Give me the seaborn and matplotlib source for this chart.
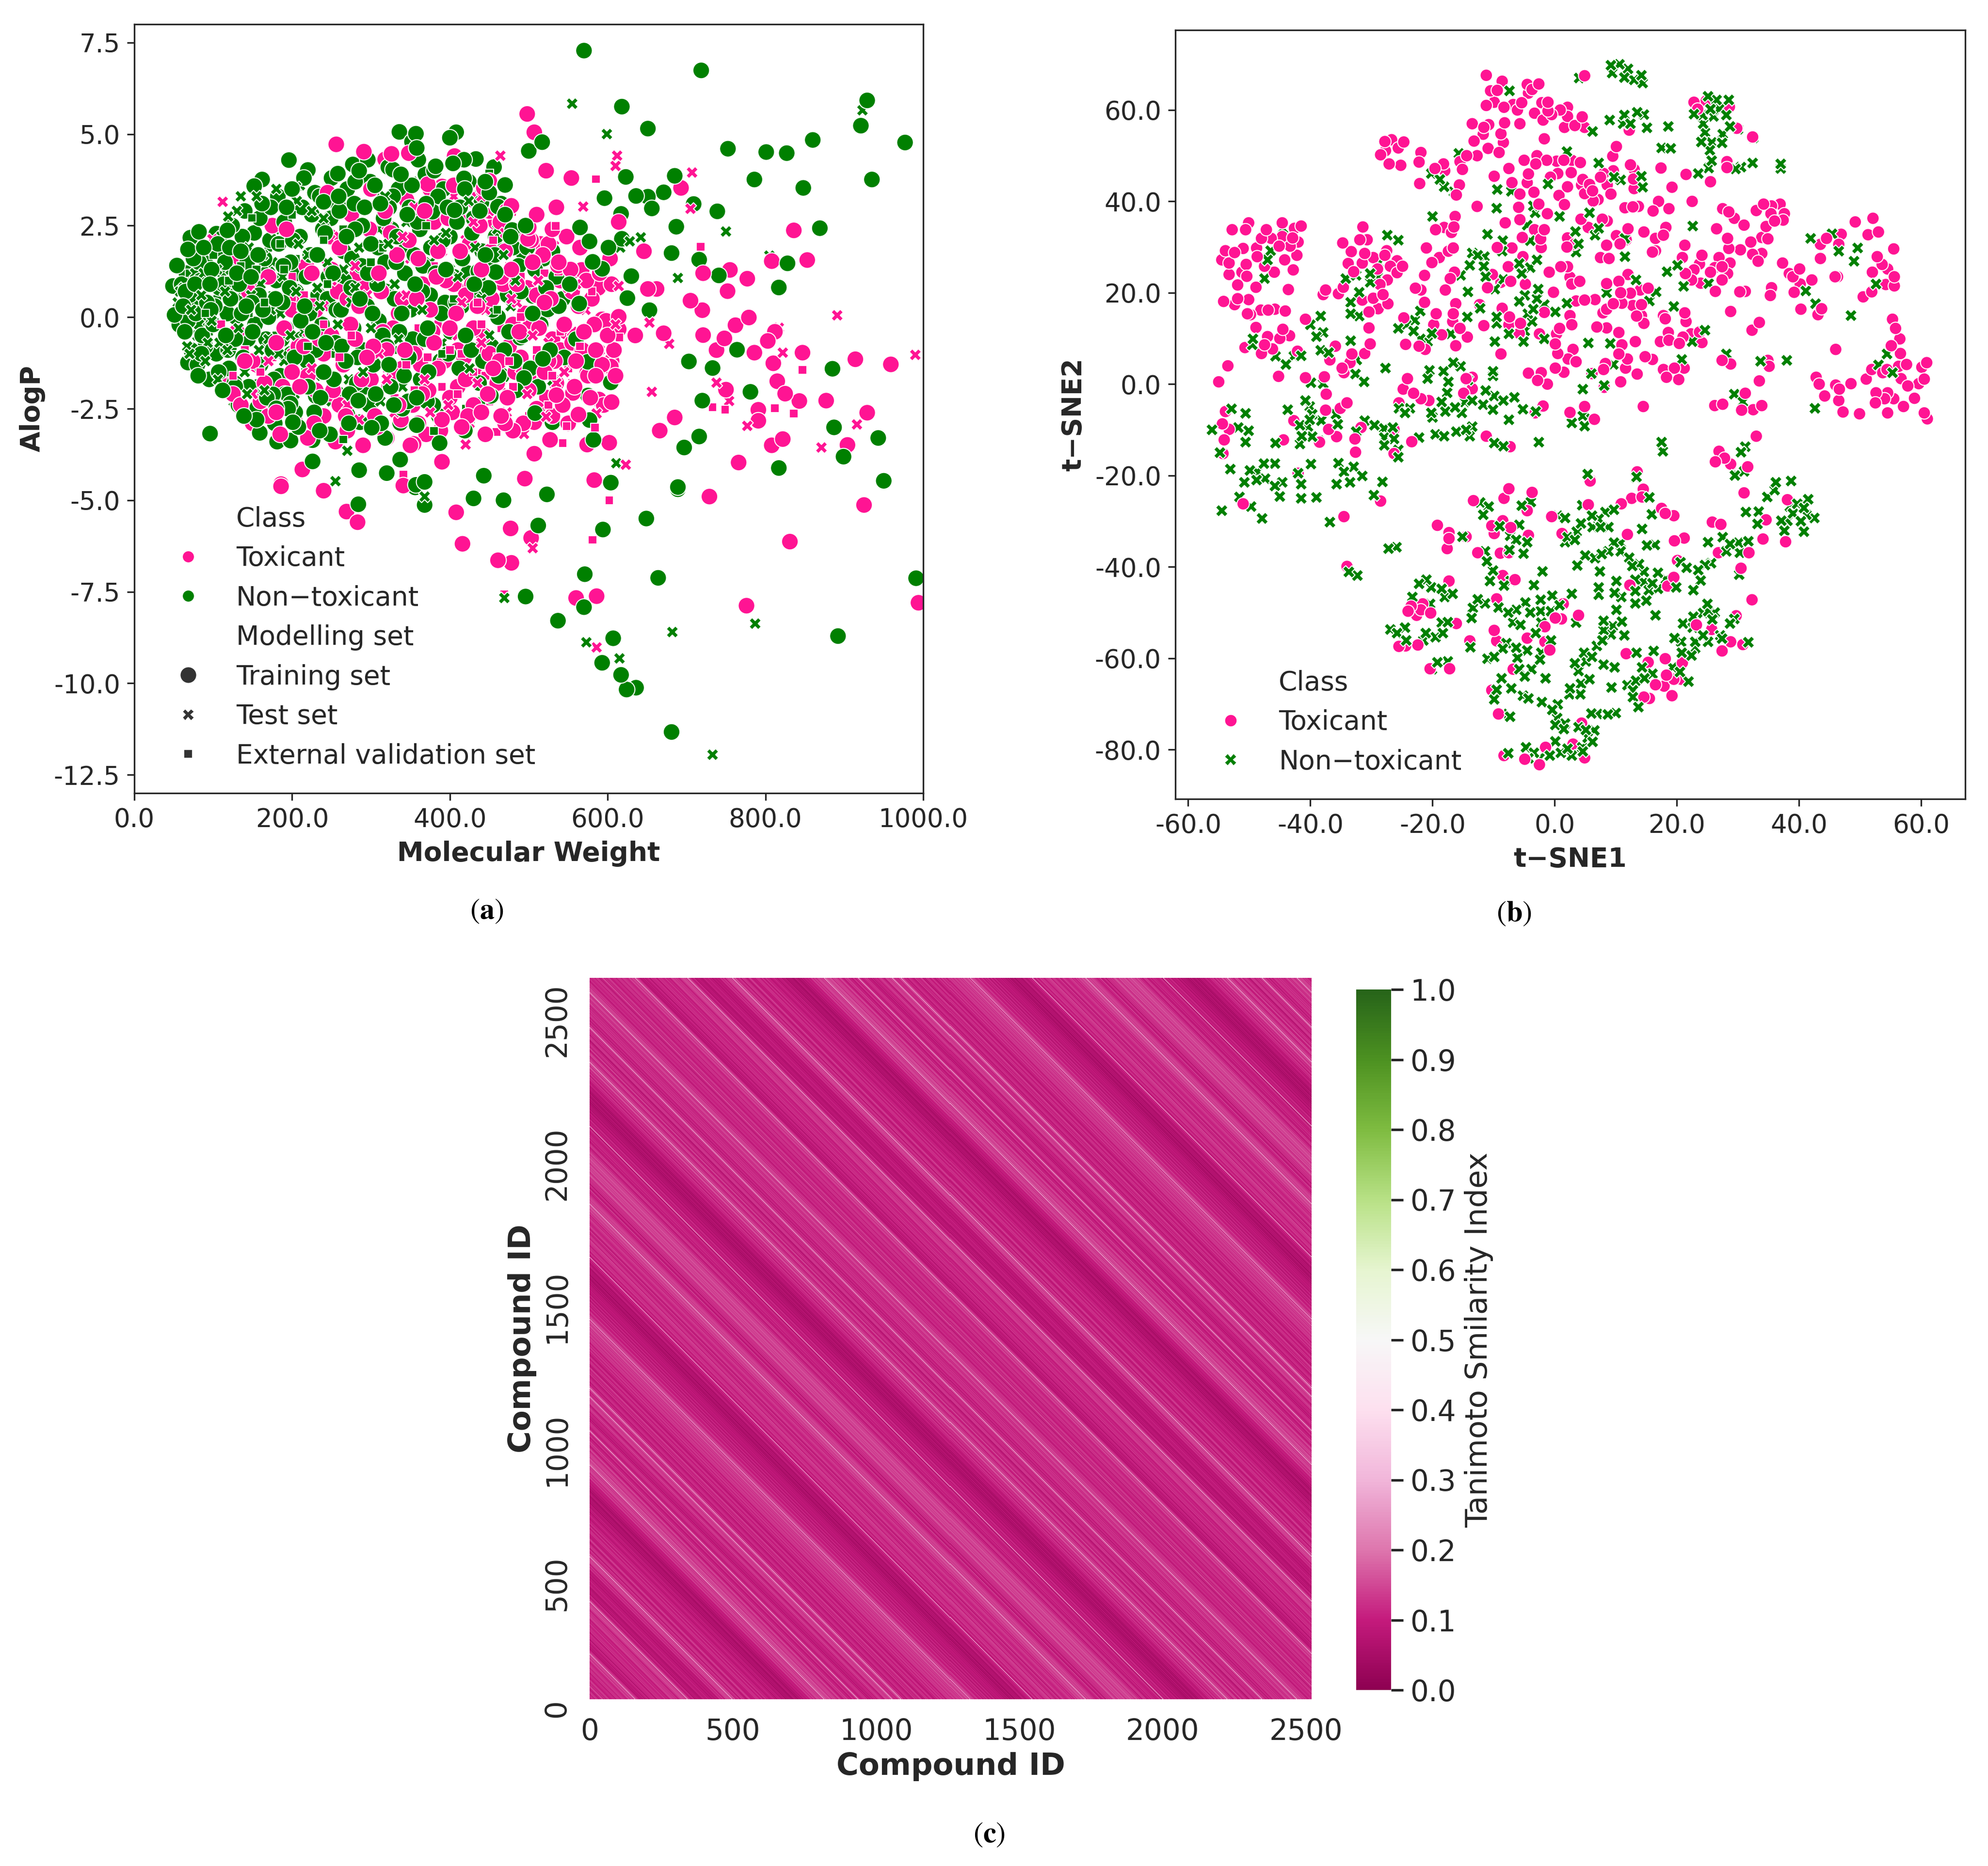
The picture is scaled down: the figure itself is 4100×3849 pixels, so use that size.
import numpy as np
import pandas as pd
import matplotlib
matplotlib.use("Agg")
import matplotlib.pyplot as plt
from matplotlib.lines import Line2D
from matplotlib.ticker import FormatStrFormatter
import seaborn as sns

# panel (a): molecular weight vs AlogP
tox_train = [
    (498,5.55),(507,5.05),(256,4.72),(291,4.52),(326,4.46),(318,4.31),(348,4.48),(406,4.4),(522,4.0),(554,3.8),
    (450,3.72),(443,3.53),(372,3.63),(390,3.57),(478,3.04),(464,2.6),(500,2.45),(614,2.6),(693,3.53),(499,2.14),
    (515,2.0),(646,1.8),(537,1.41),(567,1.29),(721,1.2),(755,1.29),(777,1.05),(808,1.53),(853,1.56),(836,2.37),
    (651,0.77),(662,0.77),(752,0.71),(705,0.45),(720,0.19),(779,-0.01),(762,-0.22),(721,-0.49),(748,-0.58),(738,-0.9),
    (803,-0.65),(812,-0.4),(786,-0.97),(847,-0.97),(914,-1.15),(959,-1.29),(810,-1.26),(815,-1.75),(825,-2.09),(843,-2.29),
    (877,-2.28),(750,-1.98),(791,-2.53),(791,-2.83),(929,-2.61),(822,-3.33),(808,-3.5),(904,-3.49),(766,-3.97),(685,-2.74),
    (666,-3.1),(614,0.01),(614,-0.33),(635,-0.5),(671,-0.44),(593,-0.06),(604,-1.35),(574,-1.53),(589,-2.25),(605,-2.32),
    (556,-2.07),(535,-2.13),(563,-2.66),(527,-3.35),(574,-3.48),(602,-3.43),(507,-3.73),(495,-4.41),(583,-4.45),(390,-3.95),
    (354,-3.46),(213,-4.16),(186,-4.56),(507,-2.87),(186,-4.62),(240,-4.74),(269,-5.31),(283,-5.6),(408,-5.33),(416,-6.19),
    (477,-5.77),(503,-6.03),(461,-6.64),(478,-6.71),(729,-4.9),(831,-6.13),(560,-7.67),(586,-7.62),(776,-7.88),(994,-7.8),
    (925,-5.13),(341,-4.6),
    (110,-1.5),(125,-2.1),(130,1.5),(140,-1.2),(150,-2.9),(155,0.9),(165,-1.8),(175,2.5),(180,-2.6),(185,-3.2),
    (195,0.5),(200,-1.5),(205,-2.9),(210,3),(215,-0.8),(220,-3.3),(225,1.2),(230,-2),(240,-2.7),(245,3.4),
    (250,-0.5),(255,-3.4),(260,1.9),(265,-1.3),(270,-3.1),(275,2.8),(280,-2.2),(285,0.3),(290,-3.5),(295,-1.1),
    (300,3.5),(305,-2.7),(310,1.2),(315,-0.4),(320,-3.3),(325,2.3),(330,-1.6),(335,-2.4),(340,0.5),(345,3.2),
    (350,-3.5),(355,-1),(360,1.6),(365,-2.1),(370,-3.2),(375,0.2),(380,2.6),(385,-1.4),(390,-2.8),(395,1),
    (400,-0.3),(405,3.6),(410,-1.9),(415,-3),(420,0.6),(425,2),(430,-2.4),(435,-0.9),(440,1.3),(445,-3.2),
    (450,2.9),(455,-1.4),(460,0),(465,-2.7),(470,1.8),(475,-0.8),(480,-3.1),(485,0.9),(490,2.3),(495,-1.9),
    (500,-0.3),(505,1.5),(510,-2.5),(515,-1.1),(520,0.4),(525,2),(530,-0.6),(535,-1.8),(540,1),(545,-0.2),
    (550,-2.9),(555,0.7),(560,-1.2),(565,1.9),(570,-0.4),(575,-1.6),(580,0.5),(585,-0.9),(590,1.2),(595,-2.4),
    (600,-0.5),(605,0.9),(610,-1.6),(400,-2.2),(410,-0.9),(420,-1.7),(430,-0.3),(440,-2.6),(450,-1),(460,-1.8),
    (470,-2.9),(480,-0.2),(490,-1.1),(500,-2),(510,0.6),(520,-1.5),(530,-2.7),(540,-0.9),(380,-0.7),(360,-2.9),
    (340,-1.4),(320,-0.9),(300,-1.7),(280,-0.6),(260,-2.4),(240,-1),(220,-1.6),(200,0.2),(180,-0.7),(160,-2.3),
    (120,-1.8),(135,-2.4),(145,0.7),(155,-1.3),(170,-2.7),(188,-1.9),(193,2.4),(208,-0.8),(218,1.4),(228,-2.9),
    (235,-0.6),(248,2.2),(252,-2),(258,0.7),(268,-2.7),(274,-0.2),(283,1.2),(288,-1.7),(298,2.4),(303,-0.8),
    (308,-3),(313,0.7),(318,2.9),(323,-1.9),(328,-0.3),(333,1.7),(338,-2.8),(343,-0.9),(348,2.1),(353,-2.4),
    (358,0.5),(363,-1.3),(368,2.9),(373,-2),(378,-0.4),(383,1.1),(388,-3.1),(393,-1.2),(398,2.7),(403,-2.6),
    (408,0.1),(413,1.8),(418,-1.1),(423,-2.7),(428,0.9),(433,-1.6),(438,2.5),(443,-0.5),(448,-2.1),(453,0.5),
    (458,2.6),(463,-1.2),(468,0.9),(473,-2.2),(478,1.3),(483,-1.5),(488,-0.4),(493,-2.9),(498,0.8),(503,2.1),
    (508,-1.6),(513,-0.3),(518,1.7),(523,-2.2),(528,0.5),(533,-1.2),(538,1.5),(543,-2.4),(548,-0.4),(553,1.3),
    (558,-1.9),(563,0.3),(568,-0.9),(573,1),(578,-2.2),(583,-0.2),(588,0.8),(593,-1.3),(598,-0.1),(603,1.6),
    (608,-0.9),(375,3.5),(385,1.8),(410,2.7),(430,3.2),(452,1.8),(472,2.9),(510,2.8),(530,2.4),(548,2.2),
    (535,3),(270,0.5),(290,0.9),(250,1.3),(230,0.2),(210,-1.9),(190,-0.3),(170,1.1),(150,-1.2),(130,-0.4),
    (335,0.1),(365,0.9),(405,0.9),(435,0.3),(465,1.1),(495,0.1),(525,-1.2),(555,-0.7),(585,-1.6),(605,-1.2),
]
non_train = [
    (570,7.28),(718.6,6.74),(929,5.92),(618,5.75),(651,5.15),(921,5.23),(977,4.77),(860,4.84),(752.5,4.6),(801,4.51),
    (827,4.48),(786,3.76),(935,3.76),(848,3.53),(685,3.86),(623,3.83),(671,3.41),(636,3.31),(651,3.29),(656,2.97),
    (596,3.25),(739,2.89),(709,3.09),(617,2.82),(687,2.47),(869,2.43),(565,2.45),(577,2.07),(601,1.9),(618,2.14),
    (681,1.75),(716,1.57),(828,1.47),(741,1.14),(630,1.12),(581,1.51),(593,1.32),(817,0.81),(625,0.52),(653,0.19),
    (564,0.37),(523,0.24),(505,0.58),(764,-0.89),(703,-1.21),(733,-1.39),(885,-1.41),(781,-2.04),(720,-2.28),(604,-1.78),
    (575,-2.14),(575,-1.22),(887,-3.01),(943,-3.3),(716,-3.26),(697,-3.56),(582,-3.35),(577,-2.81),(530,-2.87),(508,-2.62),
    (899,-3.81),(817,-4.12),(604,-4.52),(950,-4.47),(689,-4.64),(443,-4.33),(368,-4.5),(357,-4.58),(320,-4.26),(285,-4.18),
    (226,-3.94),(337,-3.89),(387,-3.44),(318,-3.3),(301,-3.02),(286,-2.87),(226,-3.36),(235,-3.1),(198,-3.37),(181,-3.4),
    (159,-3.16),(96,-3.18),(201,-2.87),(284,-5.11),(368,-5.13),(430,-4.95),(468,-5.0),(523,-4.84),(512,-5.69),(594,-5.8),
    (649,-5.5),(571,-7.02),(664,-7.12),(991,-7.13),(496,-7.63),(570,-7.92),(537,-8.29),(607,-8.77),(892,-8.71),(593,-9.44),
    (617,-9.77),(624,-10.17),(636,-10.12),(681,-11.33),(689,-4.7),(356,-4.65),
    (82,2.33),(71,2.17),(68,1.85),(54,1.41),(49,0.85),(51,0.06),(57,-0.21),(68,-1.24),(81,-1.6),(104,2.28),
    (118,2.37),(152,3.58),(162,3.76),(196,4.29),(220,4.02),(258,3.92),(280,3.7),(277,4.17),(296,4.3),(328,4.03),
    (336,5.06),(357,5.01),(352,4.79),(358,4.62),(400,4.9),(408,5.05),(418,4.3),(433,4.32),(456,4.1),(418,3.79),
    (470,3.61),(382,4.12),(303,3.49),(500,4.54),(517,4.78),(440,3.13),(406,2.92),(378,2.88),(315,3.09),(240,3.15),
    (259,3.02),(228,3.41),(323,2.99),(461,3.02),(479,2.38),(468,1.82),(492,1.8),(458,1.23),(436,1.25),(445,1.7),
    (128,-1.9),(157,-1.9),(176,-2.11),(194,-2.11),(230,-2.15),(198,-2.36),(156,-2.47),(180,-2.49),(270,-2.66),(337,-2.89),
    (358,-2.95),(419,-3.1),(422,-2.81),(347,-2.3),(371,-2.3),(284,-2.28),(452,-2.15),(466,-1.6),(494,-1.66),(489,-0.56),
    (518,-1.14),(524,0.21),
    (60,0.9),(62,0.3),(64,-0.4),(66,1.2),(70,0.6),(72,-0.9),(75,1.6),(78,0.1),(80,-1.3),(84,1),
    (86,-0.5),(88,1.9),(92,0.4),(95,-1.7),(98,1.3),(100,-0.2),(104,-1),(106,2),(108,0.8),(112,-2),
    (115,1.5),(118,0.1),(120,-1.4),(124,2.5),(126,0.7),(128,-0.6),(132,-2.4),(135,1.8),(138,-1.1),(140,2.9),
    (142,0.3),(145,-1.9),(148,1.1),(150,-0.4),(152,2.3),(155,-2.8),(158,0.6),(160,-1.3),(162,3.1),(165,1.6),
    (168,-2.2),(170,0),(172,2.1),(175,-0.9),(178,-2.9),(180,1),(182,3.3),(185,-1.6),(188,0.4),(190,2.6),
    (192,-0.3),(195,-2.5),(198,1.5),(200,3.5),(203,-1.1),(205,0.7),(208,-3),(210,2.2),(212,-0.6),(215,3.8),
    (218,1.1),(220,-1.9),(222,0.1),(225,2.8),(228,-2.6),(230,-0.9),(232,1.7),(235,3.3),(238,-0.2),(240,-1.5),
    (242,2.3),(245,0.5),(248,-3.2),(250,3.8),(252,1.2),(255,-0.7),(258,-2.1),(260,2.9),(262,0.2),(265,1.8),
    (268,-1.2),(270,3.5),(272,-2.9),(275,0.8),(278,-0.3),(280,2.4),(282,-1.8),(285,4),(288,1.4),(290,-0.9),
    (292,3),(295,0.3),(298,-2.4),(300,2),(303,-1.3),(305,3.6),(308,0.9),(310,-0.1),(313,-2.9),(316,2.7),
    (318,1.5),(320,-0.8),(322,4.1),(325,-1.9),(328,3.3),(330,0.5),(333,2.2),(336,-0.4),(338,3.9),(340,-2.5),
    (343,1.2),(346,2.8),(348,-1.1),(350,0.2),(352,3.6),(355,1.7),(358,-2.2),(360,4.3),(362,2.4),(365,0.7),
    (368,-0.6),(370,3.1),(373,-1.5),(376,1.9),(380,4),(383,2.7),(386,-2.7),(389,0.1),(392,3.5),(395,1.3),
    (398,-1),(400,2.2),(404,4.2),(408,0.4),(410,-1.9),(413,3),(416,1.6),(420,-0.5),(424,3.7),(428,2.3),
    (431,0.9),(435,-2.4),(438,2.9),(442,-1.2),(446,1.4),(450,3.4),(454,0.2),(458,2.2),(462,-1.6),(466,1),
    (470,2.8),(475,-0.4),(480,1.9),(484,-2),(490,0.7),(496,2.5),(502,-1.4),(508,1.3),(515,-0.2),(522,0.8),
    (530,1.8),(538,0.3),(545,-1.1),(552,0.9),(560,-0.6),(58,0.1),(65,0.7),(68,-0.1),(74,0.4),(82,1.5),
    (90,-0.8),(96,0.9),(102,0.3),(110,1.3),(116,-0.5),(122,0.5),(130,1.2),(136,0.1),(144,-0.6),
    (77,0.9),(85,-1),(91,-0.1),(97,0.2),(103,1.8),(107,-1.5),(113,0.9),(119,-0.9),(121,1.9),(127,-1.8),
    (129,0),(133,0.9),(137,2.2),(139,-2.7),(143,1.5),(147,-1.2),(149,0.4),(153,-0.2),(157,1.7),(159,2.7),
    (161,-2.1),(163,0.2),(167,-0.6),(169,1.2),(173,3),(177,-1.7),(179,0.5),(183,2),(187,-0.6),(189,1.4),
    (191,-2.1),(193,3),(197,0.8),(199,-1),(201,2.1),(204,-2.6),(207,1.2),(211,-0.1),(213,3),(216,0.3),
    (219,-1.2),(223,1.7),(226,-0.4),(229,3.4),(233,0.6),(236,-2.2),(239,2.4),(243,-0.7),(246,1.1),(249,2.7),
    (253,-1.7),(256,0.2),(259,3.3),(263,-0.8),(266,1),(269,2.2),(273,-2.1),(276,1.6),(279,3.1),(283,-1.1),
    (286,0.5),(289,2.5),(293,-1.9),(296,1.2),(299,3.7),(302,0.1),(306,-2.1),(309,1.9),(312,3.1),(315,-0.5),
    (319,0.7),(323,-1.3),(326,2.4),(329,-2.4),(332,1.5),(335,3.5),(339,0.1),(342,-1.6),(345,1.9),(349,3),
    (353,-0.6),(356,0.9),(359,2.6),(363,-1.7),(366,1.4),(369,3.9),(372,-0.3),(375,0.6),(379,-2.4),(382,1.2),
    (385,3.3),(388,-1.2),(391,2.1),(394,0.4),(397,3),(401,-0.4),(405,1.1),(409,2.6),(412,-1.4),(415,0.3),
    (419,3.5),(423,1.2),(427,-0.9),(430,2.7),(434,0.5),(437,-1.8),(441,1.8),(445,3.7),(449,0.8),(453,-0.8),
    (457,1.7),(461,0),(465,3.1),(469,-0.9),(473,0.6),(477,2.2),(482,-1.2),(487,1.4),(492,-0.5),(498,1.9),
    (505,0.1),(512,-1.9),(519,1.6),(527,-0.9),(535,1.1),(543,0.5),
]
tox_test = [
    (464,4.41),(612,4.41),(610,4.13),(569,3.02),(534,3.04),(705,2.96),(707,3.95),(532,1.94),(614,0.85),(817,-0.29),
    (891,0.05),(653,-0.15),(678,-0.73),(822,-0.97),(990,-1.03),(656,-2.04),(738,-1.79),(754,-2.29),(777,-2.97),(916,-2.93),
    (871,-3.56),(623,-4.03),(586,-2.63),(522,-2.72),(420,-3.48),(494,-3.19),(505,-6.31),(586,-9.02),(926,-5.18),(99,2.13),
    (112,3.15),(150,-2.1),(200,-1),(240,0.3),(270,-2.4),(300,1.3),(320,-1.7),(345,0.6),(360,-0.8),(375,-2.6),
    (390,1.8),(400,-1.2),(415,0.4),(425,-2.9),(440,-0.7),(455,1.2),(465,-1.9),(478,0.5),(490,-1.4),(505,-0.5),
    (515,-2.6),(522,0.1),(545,-1.5),(550,0.8),(565,-2.1),(580,-1.2),(600,-1.4),(610,-0.2),(235,1.6),(260,2.2),
    (340,2.2),(380,2.9),(420,2.1),(430,2.6),(450,2.9),(470,2.3),(505,1.6),(530,1.1),(560,0.9),
    (130,-1.9),(170,-1.2),(190,-2.5),(210,0.5),(225,-1.4),(250,-1.6),(265,0.2),(285,-2.8),(295,0.6),(310,-1),
    (330,-2.6),(350,1.6),(368,-1.7),(385,0.1),(398,-2.4),(410,-0.5),(423,1.2),(435,-1.8),(445,0.2),(458,-0.9),
    (472,-2.6),(485,0.4),(498,-2.1),(512,1),(525,-0.7),(535,-1.8),(555,-0.4),(572,0.2),(590,-0.9),(525,2),
    (497,2.5),(440,3.3),(405,3.3),(355,3),(320,2.5),(280,1.4),(250,1),(220,-0.4),
]
non_test = [
    (555,5.83),(599,5),(431,3.36),(424,3.17),(427,2.77),(205,3.55),(206,3.17),(135,3.3),(119,2.75),(923,5.65),
    (750,2.34),(805,1.68),(689,1.07),(642,2.18),(628,2.07),(616,1.9),(530,-1.73),(611,-3.99),(270,-3.65),(255,-4.48),
    (469,-7.67),(573,-8.88),(682,-8.6),(787,-8.37),(615,-9.32),(733,-11.95),(368,-4.9),
    (55,0.4),(60,-0.2),(63,0.8),(67,-0.8),(72,0.2),(77,1.2),(80,-0.5),(85,0.6),(90,-1.2),(94,1.6),
    (98,-0.1),(102,0.9),(106,-1.7),(110,2.2),(113,0.2),(118,-0.9),(122,1.3),(126,-2.3),(130,2.9),(135,0.5),
    (140,-1.5),(145,1.9),(150,-0.4),(155,3.3),(160,0.9),(165,-2),(170,-0.6),(175,1.5),(180,3.5),(185,0.1),
    (190,-1.2),(195,2.4),(200,-2.9),(205,0.7),(210,3.6),(215,-0.4),(220,1.7),(230,-1.6),(235,0.3),(240,2.7),
    (250,-2.3),(255,1.1),(260,-0.8),(270,3),(275,0.4),(285,1.9),(290,-1.5),(300,-0.3),(310,2.4),(318,3.3),
    (330,0.9),(340,-1.9),(352,2.9),(360,3.7),(365,0.2),(375,1.5),(390,-0.7),(395,2.3),(410,1.1),(425,-1.4),
    (440,0.5),(460,2.4),(468,1.7),(483,1),(477,0.3),
    (58,0.7),(65,0.2),(70,-1),(75,0.9),(82,-0.2),(88,1.2),(93,-0.7),(97,0.5),(105,1.3),(108,-0.7),
    (115,0.7),(120,-1.5),(125,1.9),(132,-0.3),(138,1.1),(143,-2.1),(148,0.6),(153,2.3),(158,-0.9),(163,1.7),
    (168,-2.7),(173,0.2),(178,2.4),(183,-1),(188,1.1),(193,3),(198,-0.5),(203,-2.1),(208,2),(213,0.1),
    (218,-1.5),(225,2.9),(232,0.8),(238,-2.6),(245,1.5),(252,3.2),(258,-0.2),(265,1.3),(272,-1.7),(280,0.8),
    (287,2.9),(295,-0.9),(305,1.1),(312,-2.3),(322,2),(335,-0.6),(345,2.6),(358,0.6),(370,-1.6),(380,2.1),
    (400,1.3),(415,3),(432,1.9),(450,-0.5),(462,1.1),
]
tox_ext = [
    (585,3.77),(479,2.88),(534,2.49),(538,1.25),(558,1.18),(718,1.92),(847,-1.44),(733,-2.46),(749,-2.53),(812,-2.49),
    (836,-2.63),(615,-0.55),(555,-1.8),(543,-3.44),(459,-3.14),(584,-3.02),(548,-2.98),(341,-4.3),(602,-5.0),(581,-6.08),
    (469,-7.57),(110,-0.2),(140,-0.9),(160,-1.5),(180,-2.3),(200,1.1),(215,0.6),(240,-0.2),(260,-1.1),(290,-1.7),
    (310,-0.6),(330,-2.2),(345,-1.3),(360,-0.3),(380,1.4),(390,-1.9),(400,-0.9),(410,-2.1),(420,0.8),(430,-1.5),
    (440,-0.2),(450,-2.3),(460,-1.1),(470,0.6),(480,-1.9),(490,0),(500,-2.7),(510,-0.9),(520,1.2),(530,-1.6),
    (540,-0.4),(475,1.4),(455,2.1),(490,1.1),(400,2.2),(540,1.5),(580,0.7),
    (125,-1.6),(150,-0.3),(175,-1.1),(225,0.4),(250,-2.2),(275,-0.5),(300,0.1),(320,-1.4),(355,-2),(372,-1.1),
    (385,-0.2),(415,-1),(425,-2.8),(435,0.4),(445,-1.6),(465,-0.3),(475,-1.2),(505,-1.7),(515,0.3),(525,-2.4),
    (550,-1.4),(565,-0.8),
]
non_ext = [
    (349,3.7),(450,3.93),(149,2.71),(84,1.17),(265,-3.34),(380,-3.11),(70,1.2),(90,0.1),(100,1.7),(105,0.5),
    (115,2.2),(125,-0.8),(135,1.4),(145,0.1),(150,2.3),(155,1.3),(160,-1.4),(170,1.9),(175,0.6),(180,-0.5),
    (190,1.3),(200,2.8),(210,0.2),(220,-0.8),(230,1.6),(245,0.9),(265,2.4),(280,-1.9),(300,1.5),(330,-0.9),
    (350,-2.9),(390,-1),(420,-2.5),(460,0.2),
    (80,0.6),(95,-0.4),(120,1),(140,1.9),(165,0.4),(185,2),(205,1.6),(240,2.1),(255,-1),(290,0.4),
    (315,1.9),(345,0.1),(370,2.5),(405,0.5),(440,1.1),
]

# panel (b): t-SNE map
tsne_tox = [
    (-50.1,35.3),(-52.8,33.8),(-50.6,33.8),(-47.2,33.8),(-44.6,35.3),(-42.6,34.1),(-41.5,34.6),(-53.9,29.2),(-52.4,28.8),(-51,29.7),
    (-48.8,29.8),(-48,31.9),(-46.4,31.9),(-44.6,32.3),(-42.9,32),(-42,31.1),(-45.1,30.2),(-43.3,30.2),(-54.5,27.2),(-53.3,26.5),
    (-50.5,26.2),(-48.7,27.9),(-47.5,25.8),(-45.9,24.5),(-44.2,27.2),(-42.2,28.2),(-42.8,25),(-53.3,24),(-51.2,24.5),(-50.4,23.6),
    (-51.9,21.7),(-48.9,21.2),(-43.6,20.7),(-51.9,18.7),(-50.1,18.5),(-54.2,18.1),(-52.4,17.4),(-50.3,15.4),(-49.8,15.2),(-48.1,16.2),
    (-46.9,16.2),(-45.8,16.4),(-44.1,16),(-31.4,34.4),(-34.7,30.9),(-31.9,31.6),(-30.7,31.6),(-33.3,29),(-31.1,28.6),(-29.7,27.7),
    (-27.8,28.2),(-27.5,29.2),(-25.8,27),(-33.8,26.4),(-31.5,26.5),(-32.9,24.6),(-29,25.2),(-26.9,25.8),(-24.9,25.8),(-25.8,24.4),
    (-27.4,22.8),(-28.6,21.8),(-34.6,21.2),(-37.5,20.6),(-37.9,19.6),(-35.4,19.8),(-28.1,19.6),(-29.7,18.8),(-31.5,18.4),(-27.3,17.6),
    (-28.9,16.5),(-30.4,15.8),(-40.8,14.2),(-30.4,12.3),(-30.2,8.8),(-35.9,8.3),(-33.2,6.6),(-31.1,6.7),(-36.8,5.3),(-34.8,3.5),
    (-33.5,4.7),(-34.5,2.5),(-48.9,12.4),(-47,10.4),(-44.5,12),(-45,10),(-43.4,10.6),(-47.5,8.6),(-46.2,7.7),(-50.7,8),
    (-48,6.7),(-42.1,7.2),(-53.5,4),(-55,0.5),(-45.2,1.7),(-40.8,1.4),(-37.7,1.6),(-37.4,-2.2),(-34,-4.1),(-35.1,-5.3),
    (-37.5,-5.7),(-42.7,-8),(-53.9,-6),(-54.4,-8.7),(-53.3,-9.9),(-54.1,-12.2),(-54.3,-15.2),(-44.4,-12.2),(-37,-9.9),(-35.7,-11.5),
    (-32.7,-12),(-32.6,-14.9),(-26.3,-9.9),(-23.4,-12.6),(-26.3,-15.2),(-42,-19.5),
    (-11.2,67.6),(-8.6,66.3),(-9.4,64.3),(-10.5,64.2),(-4.5,65.6),(-2.6,65.7),(-3.7,64.5),(-4.3,63.7),(4.9,67.5),(-9.9,61.7),
    (-11.2,61),(-8.3,60.6),(-6.8,61.2),(-5.4,61.6),(-2.1,61.6),(-1.1,61.7),(-6.1,60),(-3.3,59.3),(-1.1,59.8),(0.9,60),
    (2.1,60.6),(-0.5,59),(2.1,58.6),(4.5,58.5),(-1.9,57.8),(-13.5,57),(-8.2,57.2),(-10.8,56.8),(-11.6,56.2),(-5.7,57),
    (1.6,56.2),(3.3,56.6),(4.9,56.2),(-11.7,54.7),(-8.8,54.8),(-1.7,53.7),(-13.2,53.2),(-8.4,52.9),(-10.9,51.6),(-9.1,50.7),
    (10.1,52),(9.5,49.9),(-27.8,53.1),(-26.7,53.5),(-24.7,53),(-25.6,51.7),(-27.7,51.1),(-28.5,50.2),(-21.9,50.7),(-14.4,50),
    (-12.7,50),(-15.5,48.7),(-22.2,48.6),(-27.1,48.2),(-25.2,47.9),(-18.2,48.2),(-15.1,47),(-19.6,47.2),(-18,46.7),(-15.6,43.6),
    (-22.1,43.9),(-16.1,41.4),(28.6,60.7),(22.8,61.7),(24.8,62),(23.4,60.2),(29.8,56),(12.2,55.6),(32.4,54.1),(28.2,48.7),
    (28.2,47.4),(25.5,44.3),(21.5,45.9),(17.4,47.3),(12.4,48),(13,47),
    (-5,49),(-2.9,50),(-3.1,48.2),(-1.3,49),(0.3,48.8),(1.5,49),(2.8,49),(4.2,48.5),(-7.5,47.2),(-4.3,46),
    (-9.9,45.5),(-0.7,45.3),(0.5,46.1),(2.7,46.3),(4.6,44.8),(7.5,45.3),(8,46.1),(9.6,46.7),(12.9,44.9),(-7,44.1),
    (-4.5,44.1),(2.1,43.2),(4.4,43.6),(5.7,43.7),(8.6,43.6),(13,42.8),(-5.7,41.6),(-3.4,42),(6.2,42.3),(4.9,41.7),
    (0.7,41.3),(9.2,41.6),(6.3,40.1),(7.1,40.4),(-12.7,38.9),(-5.9,38.7),(-2.6,39.4),(1.6,39.3),(11.5,38.6),(12.8,38.8),
    (13.7,38.9),(-16.3,36.7),(-1.2,37.3),(-5.7,36),(4.3,36.1),(7.8,36.1),(8.6,35.7),(-8.1,35.3),(5.5,34.3),(12,34),
    (14.6,33.3),(-3.3,33.8),(-1.7,33.8),(-19.5,33.8),(-18.1,34.3),(-16.5,34.4),(-16.9,33.2),(-5.3,32.1),(-2.3,31.8),(2.1,32),
    (10.1,32.5),(11.7,31.6),(10.7,30.7),(8.5,30.4),(-2.2,29.9),(2,30),(3.2,30.6),(-21,29.8),(-16.6,29.8),(-17.4,29.1),
    (-9.4,29.9),(-7,29.8),(7.5,27.7),(8.9,27.5),(-5.2,27.9),(-18.9,27.7),(-20.1,26.6),(-16.4,24.5),(-7.6,25.7),(-10.2,24),
    (-21.3,23.8),(-17.1,23.1),(-0.9,24.5),(1,25.7),(2.1,25.7),(2.5,23.4),(4.1,22.5),(2.8,21.9),(-8.8,22.3),(-7.2,22.5),
    (-4.8,21.9),(-11,21.1),(-22.8,21),(-21.9,20.6),(-17.9,20.6),(-0.2,20.1),(8.5,22),(10.5,22.5),(12,24),(10.8,20),
    (12.4,19.9),(14,20.6),(15.3,21),(3.5,18.2),(4.9,18.4),(6.6,18.5),(8.5,16.4),(9.6,17.6),(11,17.7),(12.8,17.2),
    (14.2,17.4),(14.2,15),(13.4,14.9),(14.6,13.3),(-16.2,17.6),(-21.3,17.9),(-19.4,15.4),(-16.6,15.4),(-16.7,13.7),(-19.8,13),
    (-15.5,12.2),(-18.5,10.8),(-14.3,10.3),(-11.6,12.8),(-16.2,8.4),(-22.2,8.3),(-24.4,8.7),(-21.2,7.6),(-24.7,14.5),(-12.3,17.4),
    (-8.6,16.6),(-7.4,14.7),(-7.5,13),(-5.6,13.3),(-5.8,11.1),(-8.8,6.6),(-1.7,15.7),(2.5,15),(2.8,13),(0.8,12.2),
    (0.3,11),(0.1,8.8),(-2.5,11),(3,7.6),(0.5,6.7),(2.2,5.5),(3.5,4.9),(0.1,3.5),(1.5,2.6),(-4.3,2.4),
    (-2.2,2.5),(-2.8,0.8),(-1.2,0),(6.1,2.3),(8,3.2),(8.3,4.5),(10.5,11.3),(11,8.6),(13.2,9.3),(6.9,12.5),
    (8.5,12.3),(7.9,15.6),(10.5,6.6),(11.9,5.5),(11.6,3.5),(13.5,2.2),(10.8,0.5),(14.8,6),(16,5.4),(17.8,3.2),
    (19.6,3.5),(20.3,1),(18.3,1.5),(21.2,3.5),(17.8,15),(21.3,15.6),(18.1,14.3),(21.5,13.7),(18.6,11.3),(17.3,9.3),
    (18.7,9.6),(21,10.3),(22.3,11),(23.7,11.4),(24.1,9.1),(20.4,8.9),(8.1,-0.7),
    (19.2,43.1),(22.5,40),(16.1,37.9),(17,40),(18.7,38.4),(18.2,34.3),(17.8,32.6),(16.5,31.9),(16.5,29.2),(21.3,30.4),
    (16,28.9),(20.9,27.7),(24.1,28.2),(26.9,27.7),(28.3,31.9),(26.5,34),(27.5,38.4),(28.5,37.7),(29.4,36.3),(31,34.8),
    (28.5,29.7),(30.4,29.4),(32.1,31.1),(32.4,28.4),(33.9,28.6),(33.3,26.9),(33.9,32.1),(34.9,31.8),(34.6,34.5),(33,38),
    (34.2,39.4),(35.5,39),(36.9,39.4),(35.4,37.3),(37.6,37.3),(36,35.7),(37.4,35.9),(23.7,26.3),(26.2,25.5),(28.7,26.5),
    (27.4,25.7),(21.4,24.2),(22.8,25),(25.5,24.5),(28.3,24.2),(23.9,22.1),(27.4,22.8),(22.4,22.8),(26.3,20.3),(30.3,20.2),
    (31.2,20.3),(28.8,15.9),(32.3,11.8),(33.5,13.5),(37.3,26.5),(38.4,24.2),(40.1,25.2),(39,23.5),(40.2,21.9),(42.1,22.8),
    (39.2,20.1),(35.3,19.4),(35.5,21.1),(40.3,16.4),(43.7,16.5),(43.1,15.2),(43.5,27.5),(45.9,23.5),(46.3,23.5),(44.5,31.9),
    (43.5,30.6),(46.9,32.8),(46.5,30.6),(49.2,35.5),(52.1,36.3),(53,33.3),(51.3,32.7),(52.8,27.9),(53.6,26.2),(54.5,25.2),
    (55.5,29.6),(52,24.5),(55.6,23.5),(55.6,21.5),(54.2,21.8),(51.9,20.2),(50.5,19.1),(55.3,14.2),(55.8,12.2),(56.5,9.9),
    (55.1,8.4),(46,7.6),(56.6,6.7),(57.6,4.3),(56.3,3.9),(60.9,4.7),(60.1,3.7),(51.9,3.2),(54.4,3.2),(53.7,2.5),
    (51,1.1),(60.5,1.1),(56.7,1.2),(57.8,-0.4),(59.6,0.1),(42.8,1.5),(43.3,0),(46,-0.2),(46.6,-1.1),(48.5,0.1),
    (44.2,-2.6),(52.6,-1.9),(54.5,-1.9),(55.5,-3.2),(54,-3.2),(46.5,-3.6),(52.5,-4.1),(57.1,-4.9),(58.9,-3.1),(47.2,-6.1),
    (49.9,-6.5),(54.5,-6.3),(60.5,-6.3),(61,-7.6),(27.4,5.2),(28.8,4.4),(34.9,5.2),(35.1,3.9),(33.5,0.7),(31.2,-2),
    (33.9,-4.7),(32.5,-5.6),(30.6,-5.7),(27.5,-4.4),(26.2,-4.7),(33,-11.4),(26.9,-14.7),(26.3,-17),(27.8,-16.2),(28.8,-17.5),
    (31.6,-18.1),(4.9,-4.9),(14.5,-4.9),(2.5,-6.2),(-3.2,-6.3),(-1.9,-4.8),(-11.2,-11.4),(-7.3,-13.7),(6.5,-7.7),(13.5,-19.2),
    (5.8,-21.2),(-24.1,1.2),(-24.8,-1.1),(-23.1,-2),(-21.9,-3.2),(-20.6,-3.6),(-14.9,-2),(-13.5,-1),(-14.5,1.2),(-13.5,1.5),
    (-25.5,-4.1),(-31.7,-9.5),(-38.5,-12.7),
    (-51,-26.2),(-34.5,-29),(-28.5,-25.6),(-13.3,-25.5),(-7.5,-22.9),(-8.3,-25),(-3.7,-23.7),(-4.5,-27.7),(-0.5,-29),(-19.2,-30.9),
    (-17.3,-32.5),(-17.3,-33.8),(-17.6,-36),(-14.5,-33.4),(-10.3,-31),(-8.5,-29.9),(-7.2,-31.4),(-9.9,-32.7),(-4.3,-33.1),(-12.6,-36.9),
    (-8.9,-37),(-7.5,-36.9),(1.2,-32.7),(5.9,-21),(5.5,-26.4),(10.9,-26.2),(12.6,-25),(14.3,-24.7),(14.5,-23),(11.9,-32.9),
    (17.5,-27.2),(19.5,-28.8),(18.1,-28.3),(25.8,-30.2),(27.2,-30.7),(19.6,-34.3),(21.2,-33.7),(31,-23.8),(31.7,-18),(28.9,-17.7),
    (34.6,-29.7),(34.1,-33.9),(37.8,-34.5),(38.1,-25.3),(26.8,-36.9),(31.8,-36.9),(30.5,-40.3),(20.1,-38.6),(19.5,-42.3),(18.5,-44.2),
    (12.3,-44),(-6.5,-42.8),(-8.5,-41.9),(-17.3,-43.1),(-34,-39.9),(32.3,-47.2),(29.7,-50.7),(25.7,-53.7),(23.2,-52.7),(28.8,-56.4),
    (27.4,-58.4),(30.8,-57),(20.9,-61),(18.1,-60.1),(15.3,-60.9),(11.7,-59),(18.3,-63.7),(19.5,-64.6),(20.7,-64.6),(16.5,-65.8),
    (17.9,-66.1),(19.2,-68.2),(14.6,-68.5),(15.5,-68.8),(1.4,-48.1),(3.9,-50.6),(0.1,-51.2),(1.1,-51.4),(-9.5,-47),(-1.6,-53.1),
    (-9.9,-53.9),(-9.5,-56.2),(-4.5,-55.6),(-1.6,-56.4),(-0.8,-58.2),(-16.1,-52.4),(-13.9,-56.2),(-23.5,-48.6),(-21.6,-48.1),(-24,-49.7),
    (-21.9,-49.4),(-22.6,-50.6),(-20.3,-50.1),(-25.5,-57.4),(-24.4,-57.3),(-22.4,-57.1),(-20.4,-62.3),(-17.2,-62.3),(-6.8,-62.4),(-10.3,-67),
    (-9.2,-72.2),(4.4,-74.2),(3,-78.8),(-1.5,-79.5),(-8.3,-81.3),(-4.9,-82.1),(-2.5,-83.3),(4.9,-81.8),
]
tsne_non = [
    (-7.4,64.2),(4,67),(9.2,69.8),(10.6,70),(12,69),(9.4,68.1),(11.4,67.1),(13,66.6),(14.2,67.6),(14.4,65.9),
    (25.1,63),(26.5,62.2),(28.5,62.2),(25.5,60.2),(26.9,60.2),(22.8,59.1),(24.2,58.9),(26,58.6),(28.1,58.9),(24.3,57),
    (24.6,55.1),(24,53),(25.7,52.9),(27.4,52.8),(25.4,51.2),(27.5,54.7),(28.7,56.4),(30,55.8),(32.5,53.9),(9,57.8),
    (11.4,58.9),(13.5,59.5),(14.6,59),(11.2,57),(12.4,57),(15.1,56.1),(18.6,56.4),(6.2,55.3),(17.5,51.7),(19,51.6),
    (2,50.9),(-15.7,50.5),(25.7,48.9),(25.2,47.3),(23.5,46.1),(29.6,47.1),(30.5,47.5),(32.4,48.4),(37,48.2),(37,47.2),
    (7.2,48.4),(-20.2,46.1),(-18.8,44.8),(-18.1,43.2),(-16.5,42.1),(-9.4,42.6),(-7.1,42.2),(-1.1,43.8),(9.7,45.3),(10.8,44.7),
    (14.2,45.5),(14.4,43.1),(-9.5,38.5),(-3.5,39),(-3.2,37.5),(5.7,37.5),(0.8,36.7),(-20,36.7),(3.4,33.4),(6.6,32.6),
    (7.2,34.1),(-11,32.8),(-8.5,31.4),(-8.6,29.1),(-4,31.4),(-4.5,34.8),(3.9,30.7),(3.5,28.9),(11.5,31.9),(11.5,27.9),
    (22.6,34.6),(-25.6,31.5),(-27.4,32.6),(-13.5,28.7),(-12.6,28.2),(-11.5,27.9),(-13.9,26),(-11.6,25.8),(-15.4,23.8),(-11.3,23.5),
    (-8.4,22.9),(-5.8,26.4),(-2.9,27.2),(-4,25.5),(-5.4,24.2),(-9.8,20.8),(-14.2,20.2),(-2.7,20.8),(-4.9,19.4),(-5.8,18.1),
    (-2.9,18.7),(-1.7,17.4),(2,17.7),(0.1,15.8),(-3.5,16.4),(-4.4,15.4),(-3.7,13.7),(-12.2,16.6),(-22,16),(-14.3,14.7),
    (-9.5,14.7),(-9.5,13.3),(-25.6,12.2),(-24.3,13),(-22.9,14),(-23.1,11.6),(-22,9.9),(-20.8,9.3),(-20.1,11.1),(-17,11),
    (-7.5,11),(-5.1,9.3),(-4.9,11.6),(-1.7,9.9),(-9.8,9.3),(5.5,9),(9.1,8.9),(8.5,20),(13.3,22.8),(16.6,20.2),
    (15.5,18.2),(19.5,17),(21.1,21.4),(20.1,26),(18.4,24.6),(25.2,22),(24.6,11.8),(22.5,9.3),(9.6,4.3),(20.8,5.4),
    (28.1,6.6),(33.7,5),(38,5.2),(41.1,20.4),(41.9,31.9),(45.4,32.9),(46.5,29.1),(49.6,29.8),(49,26.9),(52.6,21.9),
    (48.5,15),(42.7,17.6),(54.4,6.6),(53,4.2),(55.3,2.5),(42.6,-5.3),(29.4,-2.2),(30.8,-3.9),(4.6,-1.1),(8.1,-0.3),
    (6,2.3),(-32.4,5.3),(-33.4,9.5),(-32,20.1),(-33.4,17.9),(-33.4,15.4),(-32,14.9),(-30.2,24.2),(-29,23.5),(-28.8,26.5),
    (-30.2,22.3),(-34.2,23.1),(-32.5,23.8),(-27.7,3.5),(-32.6,2.2),(-31.2,0.5),(-39.9,0.3),(-37.9,0.1),(-38.3,14.9),(-40,13),
    (-39,10.4),(-37.9,11.3),(-38.3,7.4),(-37,6.9),(-41.5,6.2),(-42.7,6.1),(-44,4.3),(-45.7,6.1),(-49.4,9.9),(-49.5,8.6),
    (-47.5,23.1),(-47,27.2),(-46.5,29.2),(-44.5,34),
    (-40.8,-3.6),(-40.1,-4.9),(-43.7,-5.6),(-39.7,-6.6),(-35.8,-6.6),(-40.1,-7.8),(-38.2,-8),(-35.5,-8.8),(-41.7,-9),(-40.4,-9.3),
    (-41.4,-11.4),(-39.7,-11.5),(-38.6,-12.4),(-45.7,-12.9),(-41.7,-13.1),(-52.9,-5.4),(-50.6,-6.4),(-51.8,-9.5),(-50.1,-10.2),(-50.6,-12.7),
    (-56.1,-10),(-54.8,-15),(-31.1,-8),(-32.5,-10.4),(-29.5,-9),(-27.9,-9.7),(-26.5,-9.5),(-27.9,-11.7),(-27.9,-13.4),(-26.3,-12),
    (-25.6,-14.4),(-25.6,-16),(-22.2,-11.7),(-19.5,-11),(-18.1,-11.4),(-16.1,-10.4),(-14.5,-10),(-13.5,-9.3),(-13.9,-11.4),(-9.9,-12.9),
    (-8.4,-13.6),(-2.6,-12.7),(17.5,-12.7),(17.7,-14.7),(-7.5,-7.8),(2.8,-8.5),(4.6,-7),(4.9,-9.2),(6,-7.6),(-3.1,-6),
    (-5.2,-5.5),(-6.6,-2.9),(-25.5,-5.3),(-23.7,-5.3),(-24.5,-6.3),(-20.2,-6.3),(-17.9,-6),(-16.3,-5.1),(-15.2,-6.3),(-20,-7.3),
    (-18.5,-3.9),(-17.6,-1.9),(-17.4,0.5),(-20.5,3),(-18.2,2.8),(-20.8,1.2),(-16.6,4.7),(-15.4,3.9),(-14.2,0.9),(-10.1,1.8),
    (-10.1,2.8),(-11.3,-1.4),(-9.9,-2.6),(-8.4,-3.6),(-11.7,-4.5),(-13.5,-3.6),(-10.1,-5.6),(-14.7,-3.9),(30.5,-14.9),(31.2,-13.7),
    (29.6,-19.6),(31,-19.1),(36.2,-21.4),(38.7,-21.2),(5.4,-19.5),(13.3,-20.5),
    (-53.1,-18.6),(-49.9,-18.9),(-48.7,-19.2),(-47.6,-17.4),(-45.8,-17.4),(-50.8,-21.5),(-48.8,-21),(-47.4,-20.7),(-45.8,-22.3),(-44.6,-21.5),
    (-42,-19.5),(-41.5,-21.9),(-39.9,-17.5),(-35.7,-21.9),(-34.5,-19.2),(-32.9,-18.1),(-33.5,-21.5),(-31.5,-20.1),(-28.2,-21.4),(-51.6,-24.7),
    (-49.7,-26.8),(-47.9,-29.4),(-54.5,-27.7),(-45,-24.6),(-41.5,-25),(-39,-24.8),(-36.8,-30.2),(-29.6,-24.3),(-35.4,-17.3),(-27.2,-36),
    (-25.9,-35.7),(-33.7,-41.1),(-32.3,-41.9),(-15.1,-33.4),(-11.7,-28.6),(-10.8,-26.8),(-12.2,-25.9),(-5.4,-26.6),(-3.9,-25.8),(-9,-31.1),
    (-5.8,-30.8),(-7.3,-33.2),(-6.3,-34.1),(-4.5,-34.6),(-7.4,-36.3),(-5.1,-37.1),(-11.4,-36.6),(-11.1,-38.8),(-10.1,-40.8),(-10.6,-43.1),
    (-8.3,-44.1),(-7.2,-43.1),(-2,-41),(-3.4,-44),(0.5,-28.8),(1.7,-29.3),(4.3,-30.5),(6.1,-28.8),(7.2,-29.5),(6.2,-31.3),
    (7.5,-31.3),(8.8,-31.3),(8.3,-28),(9.7,-27.5),(4.5,-26.5),(5.4,-19.7),(14.3,-31.7),(15.9,-28.5),(15.5,-24.8),(13.4,-20.3),
    (3.6,-32.3),(2.1,-33.5),(1.7,-34.6),(3.3,-34.1),(9.7,-34.7),(10.8,-34.8),(8.8,-36.6),(10.8,-36.6),(7.7,-37.2),(12.2,-38),
    (5,-37.5),(6.6,-38.1),(3.7,-39.7),(7.4,-41),(15.1,-35.3),(16.4,-35.2),(12.7,-39.8),(13.8,-39.4),(14.6,-41.1),(16.9,-41.3),
    (13.2,-42.8),(14.6,-43.3),(16,-43.6),(18.2,-42.7),(10.1,-43.1),(7.2,-44.5),(7.2,-46.1),(9.8,-45.7),(10.9,-46.6),(13.2,-45.3),
    (15.4,-45.1),(16.9,-44.8),(19.9,-44.5),(22.7,-45.1),(13.2,-48),(15,-47.4),(23.9,-43),(23.5,-40.7),(21.6,-40.2),(20.6,-39),
    (24.6,-39.6),(25.6,-39.2),(25.1,-34.6),(27.5,-33.5),(28.1,-36.6),(28.7,-35),(30.1,-34.7),(30.3,-36.9),(31.7,-34.4),(30.2,-41.7),
    (29.5,-20),(31,-19.1),(34.8,-24.7),(36.2,-21.5),(36,-23.2),(38.7,-21.3),(31.3,-28),(33.4,-27.9),(33.2,-30.6),(37.1,-29.9),
    (38.1,-29.9),(37.6,-32.1),(40.8,-32.3),(40.3,-30),(39.7,-26.2),(38.5,-26.8),(40.8,-27.1),(41.5,-25.2),(42.5,-29.3),(41.2,-28.6),
    (39,-28.3),(-22.2,-43.7),(-21,-42.8),(-20.2,-44.5),(-18.5,-44.8),(-16.7,-45.9),(-18,-46.6),(-23.3,-46.6),(-20.4,-48.1),(-12.6,-47.1),
    (-11.4,-48),(-13.4,-49),(-13.6,-51.2),(-9.2,-48.9),(-7.6,-50),(-6.3,-49.4),(-4.8,-47.8),(-4,-50),(-2.3,-47.2),(-2.3,-49.7),
    (-0.6,-49.7),(-0.4,-46.3),(0.8,-48.4),(2.8,-45.9),(-18.5,-52.2),(-17.5,-52.1),(-6.8,-52.2),(-5.6,-52.7),(-2.2,-52.2),(3.5,-52.2),
    (8,-51.8),(8,-53.9),(9.5,-53),(11,-52),(10.1,-49.4),(16.5,-50.6),(11.4,-55),(9.2,-54.8),(7.8,-56.1),(6.9,-57.3),
    (-26.9,-53.7),(-25.8,-54.5),(-24.5,-53.3),(-24.3,-56.1),(-21.1,-54.5),(-19.5,-55.4),(-18.3,-54.5),(-21.5,-56.1),(-3.1,-54.5),(-0.6,-56.1),
    (-7.9,-56.7),(-8.5,-57.9),(-6.3,-57.7),(-4.5,-58.3),(-2.2,-58.8),(-13.8,-57.6),(-9.9,-59.7),(-11,-60.1),(-6.1,-59.9),(-2.4,-60.3),
    (4.8,-58.8),(6.1,-59.7),(3.3,-61.1),(5.1,-60.7),(8,-61.4),(9.8,-62),(3.9,-62.8),(13.4,-58.8),(16.2,-58.4),(14.3,-62),
    (16,-63.4),(19.3,-62),(-19.2,-60.9),(-17.5,-60.7),(-20.1,-62.4),(-5.8,-62.4),(-3.8,-62.4),(-4.9,-64),(-8.7,-64.4),(-1.5,-64.4),
    (5.7,-64.6),(4.3,-65.6),(2.5,-66.6),(4.2,-67.9),(2.4,-67.9),(9.3,-66.4),(13.3,-64.9),(11.9,-65.9),(14.7,-64.4),(12.8,-67),
    (13.7,-70.7),(12.8,-68.5),(21.9,-65.1),(20.5,-63),(-9.5,-66.9),(-7.1,-66.6),(-5.2,-68.2),(-9.9,-69),(-4.3,-68.8),(-2.1,-69.6),
    (0.5,-70.1),(-0.4,-71.3),(-8.6,-72.2),(-7.3,-72.8),(6,-72.1),(7,-72.2),(8.7,-72.3),(10,-72),(0.4,-73.1),(0.1,-74.6),
    (1.7,-74.3),(1.5,-75.5),(3.9,-75.1),(6.5,-75.8),(5.1,-75.7),(5.4,-77.4),(6.2,-78.3),(0.1,-78.2),(4.5,-79.5),(2.1,-79.8),
    (-7.6,-80.8),(-4.7,-79.5),(-3.4,-80.7),(-2.5,-81.9),(-0.8,-81.3),(1,-80.7),(2.8,-81.3),(-4.3,-81.9),(4.6,-80.4),(21,-52.4),
    (22.7,-50.9),(24.3,-50.1),(25,-48.1),(25.1,-49.7),(26.2,-50),(25.8,-51.5),(22.6,-53.3),(28.7,-52.4),(29.4,-51.4),(27.1,-55),
    (24.3,-55),(19.6,-55.6),(20.7,-56.4),(23,-56.4),(25.1,-56.4),(31.7,-56.5),(27.4,-55.7),(23,-57.8),(20.8,-58.8),(22.4,-59.4),
]

# panel (c): similarity stripes (x100) across one period of the diagonal bands
band_profile = [
    10,12,11,13,9,11,14,12,10,13,11,9,12,10,13,11,12,14,10,12,
    13,14,14,13,12,9,8,8,9,10,9,11,10,12,9,11,13,10,12,11,
    10,12,14,11,13,10,12,14,14,14,14,11,9,10,8,8,7,8,8,9,
    10,9,8,8,9,8,9,11,12,10,13,14,14,15,14,11,12,10,13,11,
    9,11,12,10,9,11,13,10,12,9,10,11,9,8,10,9,8,9,8,8,
    7,7,6,6,6,6,7,6,7,8,9,10,9,11,12,13,12,14,13,14,
    15,15,15,15,14,14,13,12,14,11,10,12,13,11,9,12,10,11,13,10,
    9,11,12,10,8,9,11,10,12,13,11,10,12,14,14,14,13,11,12,14,
    13,12,10,9,11,10,9,12,10,11,13,10,9,11,12,10,11,9,10,12,
    11,13,12,10,11,14,12,13,11,14,14,13,15,14,15,15,14,13,12,11,
    10,12,9,10,11,9,10,8,9,8,9,7,8,8,7,6,6,6,6,7,
    6,7,7,8,8,9,10,11,9,12,10,11,13,10,11,12,14,11,13,10,
    11,12,10,13,11,12,10,14,12,11,13,14,15,15,15,15,14,14,13,12,
    11,10,12,9,11,10,12,11,13,14,14,13,15,14,15,15,13,15,14,15,
    13,14,12,11,10,13,11,9,10,12,10,9,11,10,8,9,10,9,11,9,
    8,9,7,8,7,6,6,6,6,6,6,6,7,6,7,8,9,8,10,11,
    12,10,13,11,12,14,13,14,14,13,12,11,14,12,10,13,11,12,10,9,
    11,13,10,12,11,14,14,12,10,9,11,10,12,11,13,12,10,11,13,14,
    12,14,13,14,15,15,14,12,13,11,10,12,
]
fine_stripes = [0,2,-1,1,-2,0,1,-1,3,-2,0,-1,2,0,-3,1,-1,2,0,1,-2,-1,1,3,-1,0,-2,1,0,-1,2,-2,0,1,-1,-2,2,0,-1,1,3,-2,0,1,-1,0,2]
thin_lines = [46, 100, 146, 241, 276, 311, 320, 391, 455, 510, 590, 656, 692, 728]
n_compounds = 2520

W, H = 4100, 3849
sns.set_style("ticks")
plt.rcParams["axes.unicode_minus"] = False
plt.rcParams["mathtext.fontset"] = "stix"

TOX = "Toxicant"
NON = "Non\u2212toxicant"


def frame(points, cls, split, cols=("x", "y")):
    d = pd.DataFrame(points, columns=list(cols))
    d["Class"] = cls
    d["Modelling set"] = split
    return d


def mixed(d):
    # points are drawn in a mixed order, as in the original file order
    order = np.argsort((np.arange(len(d)) * 0.618034) % 1)
    return d.iloc[order].reset_index(drop=True)


def box(l, t, r, b):
    return [l / W, 1 - b / H, (r - l) / W, (b - t) / H]


fig = plt.figure(figsize=(W / 300, H / 300), dpi=300)
palette = {TOX: "deeppink", NON: "green"}

# (a)
df_a = mixed(pd.concat([
    frame(tox_train, TOX, "Training set"), frame(non_train, NON, "Training set"),
    frame(tox_test, TOX, "Test set"), frame(non_test, NON, "Test set"),
    frame(tox_ext, TOX, "External validation set"), frame(non_ext, NON, "External validation set"),
]))
ax1 = fig.add_axes(box(277, 50, 1904, 1636))
sns.scatterplot(data=df_a, x="x", y="y", hue="Class", style="Modelling set", size="Modelling set",
                hue_order=[TOX, NON], palette=palette,
                style_order=["Training set", "Test set", "External validation set"],
                size_order=["Training set", "Test set", "External validation set"],
                markers={"Training set": "o", "Test set": "X", "External validation set": "s"},
                sizes={"Training set": 68, "Test set": 36, "External validation set": 18},
                edgecolor="white", linewidth=0.5, ax=ax1)
ax1.set_xlim(0, 1000)
ax1.set_ylim(-13, 8)
ax1.set_xticks([0, 200, 400, 600, 800, 1000])
ax1.set_yticks([-12.5, -10, -7.5, -5, -2.5, 0, 2.5, 5, 7.5])
ax1.set_xlabel("Molecular Weight", fontsize=13.2, fontweight="bold")
ax1.set_ylabel("AlogP", fontsize=13.2, fontweight="bold")
ax1.legend(loc="lower left", bbox_to_anchor=(0.004, 0.0), frameon=False, fontsize=13.2, labelspacing=0.5)

# (b)
df_b = mixed(pd.concat([frame(tsne_tox, TOX, "Training set"), frame(tsne_non, NON, "Training set")]))
ax2 = fig.add_axes(box(2424, 62, 4053, 1648))
sns.scatterplot(data=df_b, x="x", y="y", hue="Class", style="Class", hue_order=[TOX, NON],
                style_order=[TOX, NON], markers={TOX: "o", NON: "X"}, palette=palette, s=38,
                edgecolor="white", linewidth=0.5, ax=ax2)
ax2.set_xlim(-62.1, 67.2)
ax2.set_ylim(-90.8, 77.5)
ax2.set_xticks([-60, -40, -20, 0, 20, 40, 60])
ax2.set_yticks([-80, -60, -40, -20, 0, 20, 40, 60])
ax2.set_xlabel("t\u2212SNE1", fontsize=13.2, fontweight="bold")
ax2.set_ylabel("t\u2212SNE2", fontsize=13.2, fontweight="bold")
handles, labels = ax2.get_legend_handles_labels()
blank = Line2D([], [], linestyle="none", marker="")
ax2.legend([blank] + handles, ["Class"] + labels, loc="lower left", bbox_to_anchor=(0.006, 0.0),
           frameon=False, fontsize=13.2, labelspacing=0.5)

for ax in (ax1, ax2):
    ax.xaxis.set_major_formatter(FormatStrFormatter("%.1f"))
    ax.yaxis.set_major_formatter(FormatStrFormatter("%.1f"))
    ax.tick_params(labelsize=12.7)

# (c) bands run along x + y = const and repeat once per n_compounds
profile = np.array(band_profile) / 100
fine = np.array(fine_stripes) / 100
n_cells = len(profile) * 2
ii, jj = np.meshgrid(np.arange(n_cells), np.arange(n_cells))
s = (ii + jj) % n_cells
matrix = profile[s // 2] + fine[s % len(fine)]
matrix[np.isin(s, thin_lines)] = 0.26

ax3 = fig.add_axes(box(1216, 2017, 2705, 3505))
cax = fig.add_axes(box(2797, 2041, 2869, 3486))
sns.heatmap(matrix, vmin=0, vmax=1, cmap="PiYG", ax=ax3, cbar_ax=cax, xticklabels=False, yticklabels=False,
            cbar_kws={"ticks": np.arange(0, 1.01, 0.1)}, rasterized=True)
ax3.invert_yaxis()
cell = n_cells / n_compounds
ticks = [0, 500, 1000, 1500, 2000, 2500]
ax3.set_xticks([t * cell for t in ticks], labels=ticks, rotation=0)
ax3.set_yticks([t * cell for t in ticks], labels=ticks, rotation=90, va="top")
ax3.tick_params(length=0, labelsize=14.3, pad=9)
ax3.set_xlabel("Compound ID", fontsize=15, fontweight="bold", labelpad=3)
ax3.set_ylabel("Compound ID", fontsize=15, fontweight="bold", labelpad=3)
cax.tick_params(labelsize=14.3, length=6, width=1.25, color=".15")
cax.yaxis.set_major_formatter(FormatStrFormatter("%.1f"))
cax.set_ylabel("Tanimoto Smilarity Index", fontsize=15, color=".15")

for label, cx, cy in [("a", 1004, 1879), ("b", 3122, 1884), ("c", 2040, 3784)]:
    fig.text(cx / W, 1 - cy / H, r"$(\mathbf{%s})$" % label, fontsize=14.5, ha="center", va="center", color="black")

fig.savefig("out.png", dpi=300, facecolor="white")
